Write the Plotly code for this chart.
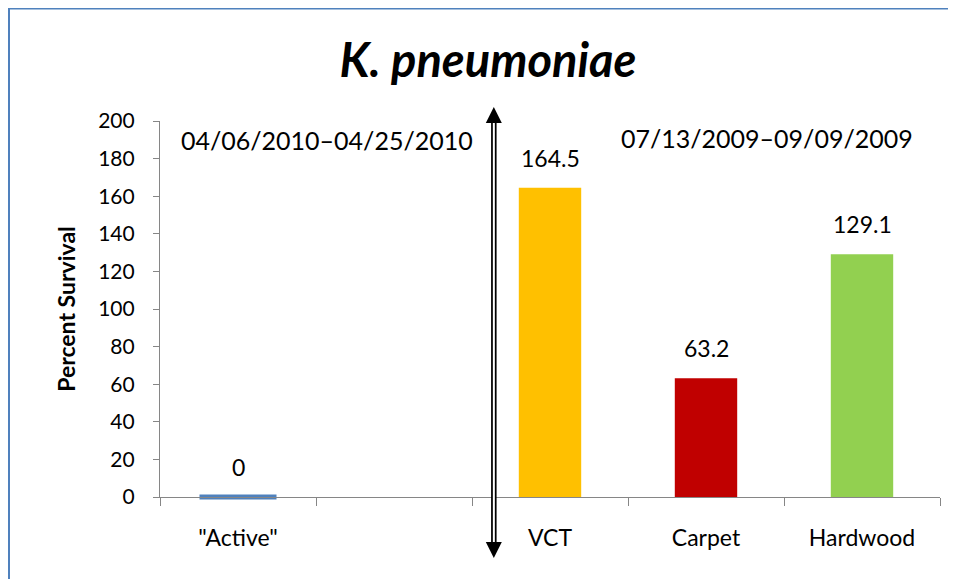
import plotly.graph_objects as go

categories = ['"Active"', " ", "VCT", "Carpet", "Hardwood"]
values = [0, None, 164.5, 63.2, 129.1]
labels = ["0", "", "164.5", "63.2", "129.1"]
colors = ["#4F81BD", "#FFFFFF", "#FFC000", "#C00000", "#92D050"]
widths = [0.49, 0.4, 0.4, 0.4, 0.4]
y_ticks = [0, 20, 40, 60, 80, 100, 120, 140, 160, 180, 200]
period_left = "04/06/2010–04/25/2010"
period_right = "07/13/2009–09/09/2009"

FONT = "Lato"

fig = go.Figure()
fig.add_trace(go.Bar(
    x=categories, y=values, width=widths,
    marker=dict(color=colors, line=dict(width=0)),
    hoverinfo="skip", showlegend=False,
))
# zero-valued bar shown as a thin bar
zero_x = [c for c, v in zip(categories, values) if v == 0]
zero_y = [v for v in values if v == 0]
fig.add_trace(go.Scatter(
    x=zero_x, y=zero_y, mode="markers",
    marker=dict(symbol="line-ew", size=55, color="#4F81BD",
                line=dict(color="#4F81BD", width=5)),
    cliponaxis=False, hoverinfo="skip", showlegend=False,
))

annotations = []
for c, v, t in zip(categories, values, labels):
    if v is None:
        continue
    annotations.append(dict(
        x=c, y=v, xref="x", yref="y", text=t, showarrow=False,
        xanchor="center", yanchor="bottom", yshift=14,
        font=dict(family=FONT, size=23, color="#000000"),
    ))
annotations.append(dict(
    x=0.214, y=0.949, xref="paper", yref="paper", text=period_left,
    xanchor="center", yanchor="middle",
    showarrow=False, font=dict(family=FONT, size=25, color="#000000"),
))
annotations.append(dict(
    x=0.778, y=0.955, xref="paper", yref="paper", text=period_right,
    xanchor="center", yanchor="middle",
    showarrow=False, font=dict(family=FONT, size=25, color="#000000"),
))
# divider double arrow heads
ARROW_X = 0.428
annotations.append(dict(
    x=ARROW_X, y=1.037, xref="paper", yref="paper", ax=0, ay=16,
    axref="pixel", ayref="pixel", text="", showarrow=True,
    arrowhead=2, arrowsize=1.6, arrowwidth=2, arrowcolor="#000000",
))
annotations.append(dict(
    x=ARROW_X, y=-0.162, xref="paper", yref="paper", ax=0, ay=-16,
    axref="pixel", ayref="pixel", text="", showarrow=True,
    arrowhead=2, arrowsize=1.6, arrowwidth=2, arrowcolor="#000000",
))

shapes = [
    dict(type="rect", xref="paper", yref="paper",
         x0=-0.1936, x1=1.05, y0=-0.3, y1=1.2992,
         line=dict(color="#4F81BD", width=2), layer="below"),
    dict(type="line", xref="paper", yref="paper",
         x0=ARROW_X, x1=ARROW_X, y0=-0.145, y1=1.02,
         line=dict(color="#000000", width=5.5), layer="above"),
    dict(type="line", xref="paper", yref="paper",
         x0=ARROW_X, x1=ARROW_X, y0=-0.14, y1=1.015,
         line=dict(color="#FFFFFF", width=2), layer="above"),
]

fig.update_layout(
    width=956, height=579,
    margin=dict(l=152, r=24, t=113, b=90),
    paper_bgcolor="#FFFFFF", plot_bgcolor="#FFFFFF",
    font=dict(family=FONT, color="#000000"),
    title=dict(text="<b><i>K. pneumoniae</i></b>", x=0.502, xanchor="center",
               y=0.910, yanchor="middle",
               font=dict(family=FONT, size=47, color="#000000")),
    bargap=0.5,
    annotations=annotations,
    shapes=shapes,
)
fig.update_xaxes(
    type="category", categoryorder="array", categoryarray=categories,
    showline=True, linecolor="#868686", linewidth=1.2,
    ticks="outside", tickson="boundaries", ticklen=8, tickcolor="#868686",
    tickfont=dict(family=FONT, size=23, color="#000000"),
    ticklabelstandoff=20, showgrid=False, zeroline=False,
    range=[-0.5, 4.5],
)
fig.update_yaxes(
    range=[0, 200], tickvals=y_ticks, ticktext=[str(t) for t in y_ticks],
    showline=True, linecolor="#868686", linewidth=1.2,
    ticks="outside", ticklen=6, tickcolor="#868686",
    tickfont=dict(family=FONT, size=21, color="#000000"),
    ticklabelstandoff=14,
    showgrid=False, zeroline=False,
    title=dict(text="<b>Percent Survival</b>", standoff=16,
               font=dict(family=FONT, size=23, color="#000000")),
)

fig.write_html("out.html")
